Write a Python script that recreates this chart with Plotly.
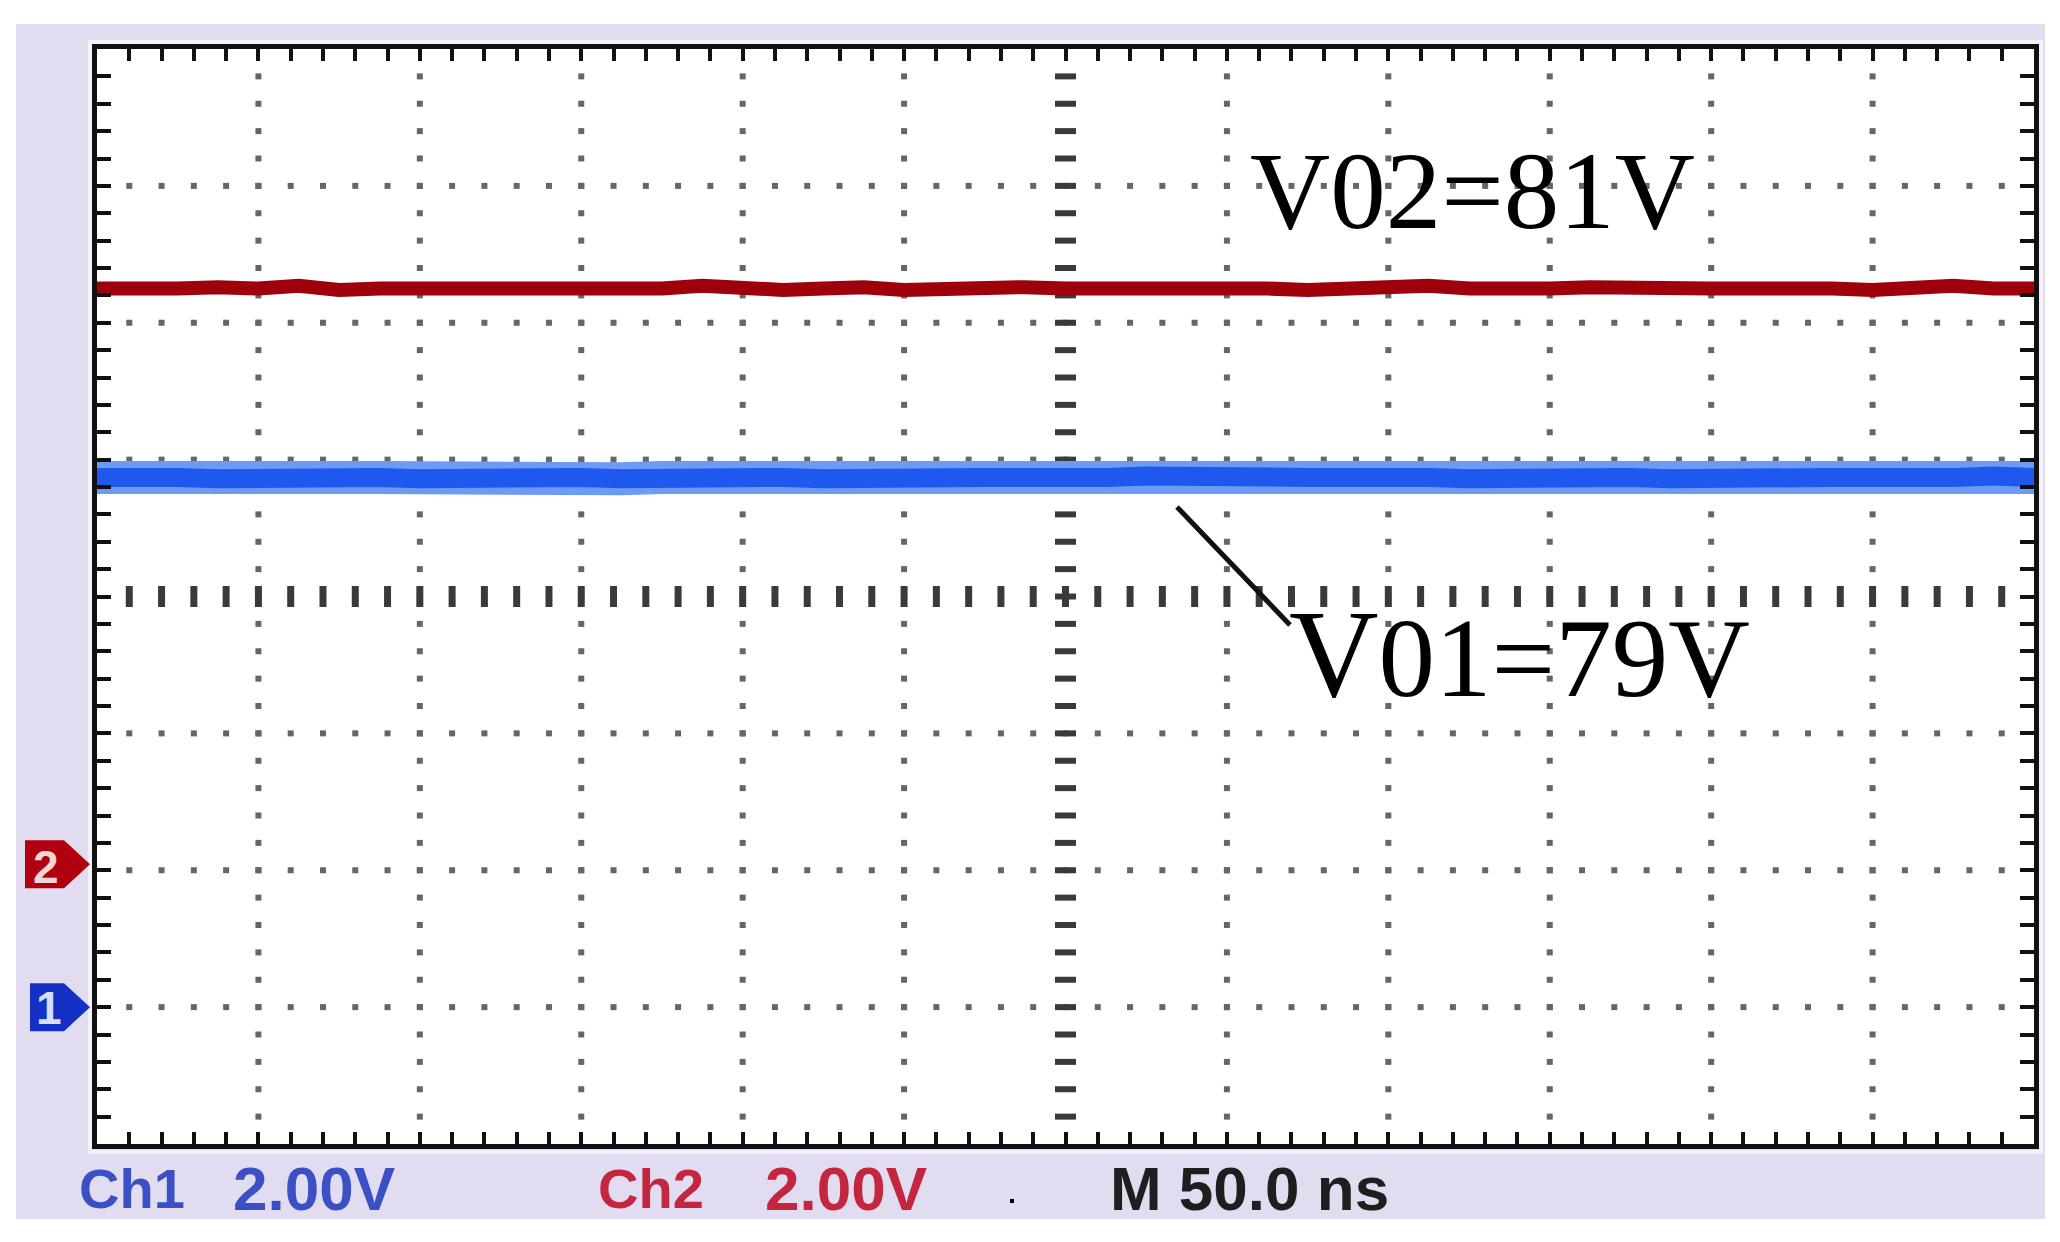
import plotly.graph_objects as go

# ---------------- data (time in ns, level in vertical divisions) ----------------
time_ns = [-300.0, -287.5, -275.0, -262.5, -250.0, -237.5, -225.0, -212.5, -200.0, -187.5,
           -175.0, -162.5, -150.0, -137.5, -125.0, -112.5, -100.0, -87.5, -75.0, -62.5,
           -50.0, -37.5, -25.0, -12.5, 0.0, 12.5, 25.0, 37.5, 50.0, 62.5,
           75.0, 87.5, 100.0, 112.5, 125.0, 137.5, 150.0, 162.5, 175.0, 187.5,
           200.0, 212.5, 225.0, 237.5, 250.0, 262.5, 275.0, 287.5, 300.0]
ch2_div = [2.25, 2.24, 2.25, 2.26, 2.25, 2.27, 2.24, 2.25, 2.25, 2.24,
           2.26, 2.25, 2.25, 2.24, 2.25, 2.27, 2.25, 2.24, 2.25, 2.26,
           2.24, 2.25, 2.25, 2.26, 2.25, 2.24, 2.25, 2.25, 2.26, 2.25,
           2.24, 2.25, 2.25, 2.27, 2.25, 2.24, 2.25, 2.26, 2.25, 2.24,
           2.25, 2.25, 2.26, 2.25, 2.24, 2.25, 2.27, 2.25, 2.25]
ch1_div = [0.87, 0.88, 0.87, 0.86, 0.87, 0.88, 0.87, 0.87, 0.86, 0.87,
           0.88, 0.87, 0.87, 0.86, 0.87, 0.87, 0.88, 0.87, 0.86, 0.87,
           0.87, 0.88, 0.87, 0.87, 0.86, 0.87, 0.88, 0.87, 0.87, 0.86,
           0.87, 0.87, 0.88, 0.87, 0.86, 0.87, 0.87, 0.88, 0.87, 0.86,
           0.87, 0.87, 0.88, 0.87, 0.87, 0.86, 0.87, 0.88, 0.87]
ch1_label = "V01=79V"
ch2_label = "V02=81V"
ch1_ref_div = -3
ch2_ref_div = -2
status_texts = ["Ch1", "2.00V", "Ch2", "2.00V", "M 50.0 ns"]

# ---------------- geometry ----------------
W, H = 2060, 1242
L, R, T, B = 97, 26, 49, 98
PW, PH = W - L - R, H - T - B
XMIN, XMAX, XDIV = -300, 300, 50
YMIN, YMAX, YDIV = -4, 4, 1
NSUB = 5


def fx(px):
    return (px - L) / PW


def fy(py):
    return (H - B - py) / PH


LAV = "#E2DCF0"
fig = go.Figure()

# ---------------- graticule (dots & centre ticks) ----------------
xminor = [XMIN + i * XDIV / NSUB for i in range(1, int((XMAX - XMIN) / XDIV * NSUB))]
yminor = [YMIN + i * YDIV / NSUB for i in range(1, int((YMAX - YMIN) / YDIV * NSUB))]
xmajor = [XMIN + i * XDIV for i in range(1, int((XMAX - XMIN) / XDIV)) if XMIN + i * XDIV != 0]
ymajor = [YMIN + i * YDIV for i in range(1, int((YMAX - YMIN) / YDIV)) if YMIN + i * YDIV != 0]

dx, dy = [], []
for gx in xmajor:
    for yy in yminor:
        dx.append(gx); dy.append(yy)
for gy in ymajor:
    for xx in xminor:
        dx.append(xx); dy.append(gy)
fig.add_trace(go.Scatter(x=dx, y=dy, mode="markers", hoverinfo="skip",
                         marker=dict(symbol="square", size=6, color="#666666", line=dict(width=0))))
fig.add_trace(go.Scatter(x=[0] * len(yminor), y=yminor, mode="markers", hoverinfo="skip",
                         marker=dict(symbol="line-ew", size=15, line=dict(width=6, color="#3a3a3a"))))
fig.add_trace(go.Scatter(x=xminor, y=[0] * len(xminor), mode="markers", hoverinfo="skip",
                         marker=dict(symbol="line-ns", size=15, line=dict(width=7, color="#3a3a3a"))))

# ---------------- traces ----------------
fig.add_trace(go.Scatter(x=time_ns, y=ch1_div, mode="lines", hoverinfo="skip",
                         line=dict(color="#6C9AF5", width=33)))
fig.add_trace(go.Scatter(x=time_ns, y=ch1_div, mode="lines", hoverinfo="skip",
                         line=dict(color="#1F58EE", width=19)))
fig.add_trace(go.Scatter(x=time_ns, y=ch2_div, mode="lines", hoverinfo="skip",
                         line=dict(color="#9E000C", width=14)))

# ---------------- background / frame shapes ----------------
shapes = []
for (x0, y0, x1, y1) in [(0, 0, W, 24), (0, 1219, W, H), (0, 0, 16, H), (2045, 0, W, H)]:
    shapes.append(dict(type="rect", xref="paper", yref="paper", x0=fx(x0), x1=fx(x1),
                       y0=fy(y1), y1=fy(y0), fillcolor="white", line=dict(width=0), layer="below"))
shapes.append(dict(type="rect", xref="paper", yref="paper", x0=fx(90), x1=fx(2041),
                   y0=fy(1152), y1=fy(42), fillcolor="rgba(0,0,0,0)",
                   line=dict(color="#F4F1FC", width=4), layer="below"))
shapes.append(dict(type="line", xref="paper", yref="paper", x0=fx(1177), y0=fy(507),
                   x1=fx(1290), y1=fy(625), line=dict(color="#111111", width=5)))
for ref, col, xl in [(ch2_ref_div, "#B0000F", 25), (ch1_ref_div, "#1530C4", 30)]:
    yc = (H - B - (T + (YMAX - ref) / (YMAX - YMIN) * PH)) / PH
    off = 6 if ref == ch2_ref_div else 0
    shapes.append(dict(type="path", xref="paper", yref="paper", xsizemode="pixel", ysizemode="pixel",
                       xanchor=0, yanchor=yc,
                       path=f"M {xl - L},{off - 24} L {64 - L},{off - 24} L {90 - L},{off} "
                            f"L {64 - L},{off + 24} L {xl - L},{off + 24} Z",
                       fillcolor=col, line=dict(width=0)))
shapes.append(dict(type="rect", xref="paper", yref="paper", x0=fx(1010), x1=fx(1014),
                   y0=fy(1203), y1=fy(1199), fillcolor="#000000", line=dict(width=0)))

# ---------------- annotations ----------------
SERIF = "Liberation Serif, Times New Roman, serif"
SANS = "Liberation Sans, Arial, sans-serif"
ann = []
ann.append(dict(text=ch2_label, xref="paper", yref="paper", x=fx(1248), y=fy(190),
                xanchor="left", yanchor="middle", showarrow=False,
                font=dict(family=SERIF, size=111, color="#000000")))
ann.append(dict(text="<span style='font-size:124px'>" + ch1_label[0] + "</span>" + ch1_label[1:],
                xref="paper", yref="paper", x=fx(1287), y=fy(655),
                xanchor="left", yanchor="middle", showarrow=False,
                font=dict(family=SERIF, size=113, color="#000000")))
ann.append(dict(text="<b>2</b>", xref="paper", yref="paper", x=fx(46), y=fy(867), showarrow=False,
                xanchor="center", yanchor="middle",
                font=dict(family=SANS, size=46, color="#F4D6D6")))
ann.append(dict(text="<b>1</b>", xref="paper", yref="paper", x=fx(49), y=fy(1008), showarrow=False,
                xanchor="center", yanchor="middle",
                font=dict(family=SANS, size=46, color="#D6DEFA")))
status_pos = [(77, "#3A50C4", 56), (231, "#3A50C4", 62), (596, "#C3263E", 56),
              (763, "#C3263E", 62), (1108, "#1E1E1E", 62)]
for txt, (px, col, fs) in zip(status_texts, status_pos):
    ann.append(dict(text="<b>" + txt + "</b>", xref="paper", yref="paper", x=fx(px), y=fy(1188),
                    xanchor="left", yanchor="middle", showarrow=False,
                    font=dict(family=SANS, size=fs, color=col)))

fig.update_layout(
    width=W, height=H, margin=dict(l=L, r=R, t=T, b=B, pad=0),
    paper_bgcolor=LAV, plot_bgcolor="white", showlegend=False,
    shapes=shapes, annotations=ann,
    xaxis=dict(range=[XMIN, XMAX], showgrid=False, zeroline=False, showline=True,
               linewidth=5, linecolor="#111111", mirror="allticks", ticks="inside",
               tickmode="array", tickvals=xminor, ticklen=12, tickwidth=4, tickcolor="#111111",
               showticklabels=False, fixedrange=True),
    yaxis=dict(range=[YMIN, YMAX], showgrid=False, zeroline=False, showline=True,
               linewidth=5, linecolor="#111111", mirror="allticks", ticks="inside",
               tickmode="array", tickvals=yminor, ticklen=14, tickwidth=4, tickcolor="#111111",
               showticklabels=False, fixedrange=True),
)

fig.write_html("out.html", config={"displayModeBar": False},
               post_script="document.body.style.margin='0';document.body.style.overflow='hidden';")
